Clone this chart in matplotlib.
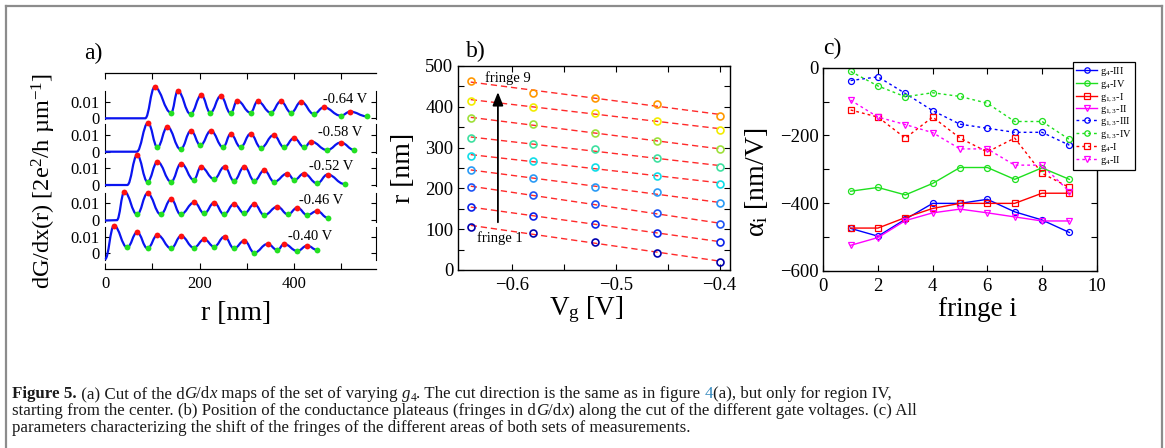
import numpy as np
import matplotlib
matplotlib.use('Agg')
import matplotlib.pyplot as plt
from matplotlib.path import Path
from matplotlib.patches import PathPatch
from matplotlib.lines import Line2D
from matplotlib.ticker import FixedLocator

plt.rcParams['font.family'] = ['Liberation Serif', 'DejaVu Serif']
plt.rcParams['mathtext.fontset'] = 'custom'
plt.rcParams['mathtext.rm'] = 'Liberation Serif'
plt.rcParams['mathtext.it'] = 'Liberation Serif:italic'
plt.rcParams['mathtext.bf'] = 'Liberation Serif:bold'

# ---------------- data: panel a (dG/dx cuts) ----------------
gate_labels = ['-0.64 V', '-0.58 V', '-0.52 V', '-0.46 V', '-0.40 V']
base_r = [[0, 85], [0, 67], [0, 47], [0, 25], [0]]
base_v = [[0.0, 0.0], [0.0, 0.0], [0.0, 0.0], [-0.0003, -0.0001], [-0.0036]]
peak_r = [[105, 154, 204, 245, 280, 323, 372, 415, 463, 519],
          [91, 132, 182, 224, 266, 308, 357, 400, 436, 499],
          [68, 111, 161, 203, 253, 295, 337, 386, 421, 471],
          [41, 90, 140, 189, 231, 273, 316, 365, 407, 449],
          [19, 68, 111, 161, 210, 253, 295, 344, 379, 428]]
peak_v = [[0.0187, 0.0164, 0.0139, 0.0134, 0.0106, 0.0102, 0.0102, 0.0100, 0.0066, 0.0040],
          [0.0173, 0.0149, 0.0126, 0.0126, 0.0106, 0.0108, 0.0100, 0.0082, 0.0061, 0.0055],
          [0.0180, 0.0139, 0.0129, 0.0108, 0.0110, 0.0110, 0.0088, 0.0069, 0.0069, 0.0063],
          [0.0170, 0.0160, 0.0126, 0.0106, 0.0104, 0.0096, 0.0096, 0.0080, 0.0074, 0.0054],
          [0.0166, 0.0126, 0.0110, 0.0104, 0.0084, 0.0100, 0.0076, 0.0056, 0.0056, 0.0046]]
valley_r = [[140, 181, 223, 266, 308, 351, 394, 442, 499, 554],
            [111, 160, 202, 250, 287, 330, 379, 422, 470, 528],
            [90, 140, 188, 231, 273, 316, 358, 401, 449, 507],
            [68, 118, 160, 210, 252, 295, 337, 387, 428, 471],
            [47, 90, 140, 188, 231, 273, 316, 365, 407, 449]]
valley_v = [[0.0034, 0.0026, 0.0034, 0.0030, 0.0034, 0.0034, 0.0034, 0.0026, 0.0016, 0.0012],
            [0.0027, 0.0015, 0.0039, 0.0027, 0.0027, 0.0023, 0.0027, 0.0027, 0.0010, 0.0010],
            [0.0020, 0.0020, 0.0031, 0.0036, 0.0025, 0.0025, 0.0020, 0.0031, 0.0010, 0.0006],
            [0.0034, 0.0034, 0.0034, 0.0040, 0.0034, 0.0040, 0.0030, 0.0034, 0.0030, 0.0014],
            [0.0036, 0.0030, 0.0030, 0.0034, 0.0040, 0.0030, 0.0004, 0.0020, 0.0014, 0.0020]]

# ---------------- data: panel b (fringe positions) ----------------
vg = [-0.64, -0.58, -0.52, -0.46, -0.40]
fringe_r = [[105, 91.5, 69, 42.5, 20],
            [154, 133, 112, 91.5, 69],
            [204, 183, 161, 140.5, 112],
            [245, 225, 204, 190, 163],
            [280, 266, 253, 231, 211],
            [323, 309, 296, 274, 253],
            [372, 357, 337, 316, 296],
            [415, 400, 386, 366, 343],
            [463, 435, 422, 407, 378]]

# ---------------- data: panel c (alpha_i) ----------------
fringe_i = [1, 2, 3, 4, 5, 6, 7, 8, 9]
series_labels = ['g$_4$-III', 'g$_4$-IV', 'g$_{1,3}$-I', 'g$_{1,3}$-II',
                 'g$_{1,3}$-III', 'g$_{1,3}$-IV', 'g$_4$-I', 'g$_4$-II']
alpha_g4_III = [-475, -498, -448, -401, -401, -389, -426, -450, -487]
alpha_g4_IV = [-365, -354, -376, -342, -295, -295, -330, -296, -330]
alpha_g13_I = [-474, -474, -443, -416, -401, -401, -401, -371, -371]
alpha_g13_II = [-525, -502, -452, -429, -418, -429, -441, -453, -453]
alpha_g13_III = [-38, -27, -76, -127, -167, -179, -191, -191, -229]
alpha_g13_IV = [-11, -54, -86, -74, -85, -105, -159, -159, -212]
alpha_g4_I = [-125, -146, -208, -146, -208, -249, -208, -312, -354]
alpha_g4_II = [-96, -146, -168, -192, -240, -240, -288, -288, -366]

# ---------------- figure ----------------
W, H = 1165, 448
fig = plt.figure(figsize=(W / 100, H / 100), dpi=100)


def rect(l, t, r, b):
    return [l / W, 1 - b / H, (r - l) / W, (b - t) / H]


def ftext(x, y, s, **kw):
    return fig.text(x / W, 1 - y / H, s, **kw)


# border frame
for xs, ys in [([6, 6], [6, 460]), ([6, 1162], [6, 6]), ([1162, 1162], [6, 460])]:
    fig.add_artist(Line2D([x / W for x in xs], [1 - y / H for y in ys],
                          color='#8c8c8c', lw=1.6))

# ---------------- panel a ----------------
XMAX_A = 573.5
ax_a = fig.add_axes(rect(105, 73, 376, 269))
ax_a.set_xlim(0, XMAX_A)
ax_a.set_ylim(0, 1)
ax_a.spines['left'].set_visible(False)
ax_a.spines['right'].set_visible(False)
for sp in ['top', 'bottom']:
    ax_a.spines[sp].set_linewidth(0.9)
ax_a.set_yticks([])
ax_a.xaxis.set_major_locator(FixedLocator([0, 200, 400]))
ax_a.xaxis.set_minor_locator(FixedLocator([100, 300, 500]))
ax_a.tick_params(axis='x', which='both', direction='in', top=True, bottom=True,
                 length=4, width=0.8, labelsize=12, pad=5)
ax_a.patch.set_alpha(0)

zero_py = [118.3, 151.7, 185.0, 220.0, 253.3]
ylims = [(-0.0006, 0.0165), (-0.0006, 0.0165), (-0.0006, 0.0165),
         (-0.0012, 0.0165), (-0.0040, 0.0158)]
px_per_unit = 1660.0
label_right = [367, 362, 353, 343, 332]
label_y = [99.5, 132.7, 166.0, 200.7, 236.0]


def smooth_path(xs, ys):
    verts = [(xs[0], ys[0])]
    codes = [Path.MOVETO]
    for i in range(1, len(xs)):
        x0, y0, x1, y1 = xs[i - 1], ys[i - 1], xs[i], ys[i]
        d = (x1 - x0) * 0.42
        verts += [(x0 + d, y0), (x1 - d, y1), (x1, y1)]
        codes += [Path.CURVE4] * 3
    return Path(verts, codes)


for k in range(5):
    lo, hi = ylims[k]
    top = zero_py[k] - hi * px_per_unit
    bot = zero_py[k] - lo * px_per_unit
    sub = fig.add_axes(rect(105, top, 376, bot))
    sub.patch.set_alpha(0)
    sub.set_xlim(0, XMAX_A)
    sub.set_ylim(lo, hi)
    sub.spines['top'].set_visible(False)
    sub.spines['bottom'].set_visible(False)
    for sp in ['left', 'right']:
        sub.spines[sp].set_linewidth(0.8)
    sub.set_xticks([])
    sub.set_yticks([0, 0.01])
    sub.set_yticklabels(['0', '0.01'])
    sub.tick_params(axis='y', direction='in', left=True, right=True, length=3.5,
                    width=0.8, labelsize=12, pad=4)
    nodes = sorted(zip(peak_r[k] + valley_r[k], peak_v[k] + valley_v[k]))
    xs = list(base_r[k]) + [n[0] for n in nodes]
    ys = list(base_v[k]) + [n[1] for n in nodes]
    patch = PathPatch(smooth_path(xs, ys), facecolor='none', edgecolor='#0a14f0',
                      lw=1.6, clip_on=False, zorder=3)
    sub.add_patch(patch)
    sub.plot(peak_r[k], peak_v[k], 'o', color='#ff1010', ms=4.2, mew=0, clip_on=False, zorder=4)
    sub.plot(valley_r[k], valley_v[k], 'o', color='#22e022', ms=4.2, mew=0, clip_on=False, zorder=4)
    ftext(label_right[k], label_y[k], gate_labels[k], ha='right', va='center', fontsize=10.5)

ftext(93, 53, 'a)', ha='center', va='center', fontsize=17)
ftext(236, 314, 'r [nm]', ha='center', va='center', fontsize=20)
ftext(44, 181, r'dG/dx(r) [2e$^2$/h µm$^{-1}$]', ha='center', va='center',
      rotation=90, fontsize=17.5)

# ---------------- panel b ----------------
ax_b = fig.add_axes(rect(458.3, 66, 730, 270))
ax_b.set_xlim(-0.652, -0.39)
ax_b.set_ylim(0, 500)
fringe_colors = ['#0000b0', '#0c22e8', '#1f55f5', '#2a9af5', '#10dde8',
                 '#3ee0a0', '#9ee03a', '#f2ec00', '#ff9800']
for i, row in enumerate(fringe_r):
    coef = np.polyfit(vg, row, 1)
    ax_b.plot(vg, np.polyval(coef, vg), color='#ff2a2a', lw=1.0, dashes=(4.5, 2.8), zorder=2)
for i, row in enumerate(fringe_r):
    ax_b.plot(vg, row, 'o', mfc='none', mec=fringe_colors[i], ms=5, mew=1.2, zorder=3)
ax_b.xaxis.set_major_locator(FixedLocator([-0.6, -0.5, -0.4]))
ax_b.xaxis.set_minor_locator(FixedLocator([-0.55, -0.45]))
ax_b.yaxis.set_major_locator(FixedLocator([0, 100, 200, 300, 400, 500]))
ax_b.yaxis.set_minor_locator(FixedLocator([50, 150, 250, 350, 450]))
ax_b.tick_params(which='both', direction='in', top=True, right=True, length=4.5,
                 width=0.8, labelsize=13.5)
ax_b.tick_params(axis='x', pad=5)
for sp in ax_b.spines.values():
    sp.set_linewidth(1.0)
ax_b.annotate('', xy=(-0.6138, 436), xytext=(-0.6138, 117),
              arrowprops=dict(arrowstyle='-|>,head_length=0.8,head_width=0.32',
                              color='black', lw=1.3, shrinkA=0, shrinkB=0))
ftext(508, 78, 'fringe 9', ha='center', va='center', fontsize=10.5)
ftext(500, 238, 'fringe 1', ha='center', va='center', fontsize=10.5)
ftext(476, 51, 'b)', ha='center', va='center', fontsize=17)
ftext(586, 310, r'V$_\mathrm{g}$ [V]', ha='center', va='center', fontsize=19.5)
ftext(404, 168, 'r [nm]', ha='center', va='center', rotation=90, fontsize=20)

# ---------------- panel c ----------------
ax_c = fig.add_axes(rect(823.3, 67.7, 1096.7, 270.7))
ax_c.set_xlim(0, 10)
ax_c.set_ylim(-600, 0)
solid_series = [(alpha_g4_III, '#0000ff', 'o'), (alpha_g4_IV, '#1ee01e', 'o'),
                (alpha_g13_I, '#ff0000', 's'), (alpha_g13_II, '#ff00ff', 'v')]
dotted_series = [(alpha_g13_III, '#0000ff', 'o'), (alpha_g13_IV, '#1ee01e', 'o'),
                 (alpha_g4_I, '#ff0000', 's'), (alpha_g4_II, '#ff00ff', 'v')]
handles = []
for vals, col, mk in solid_series:
    h, = ax_c.plot(fringe_i, vals, '-', color=col, marker=mk, mfc='none', mec=col,
                   ms=4.3, mew=0.9, lw=1.0)
    handles.append(h)
for vals, col, mk in dotted_series:
    h, = ax_c.plot(fringe_i, vals, color=col, ls=(0, (2.0, 2.2)), marker=mk, mfc='none',
                   mec=col, ms=4.3, mew=0.9, lw=1.0)
    handles.append(h)
ax_c.xaxis.set_major_locator(FixedLocator([0, 2, 4, 6, 8, 10]))
ax_c.yaxis.set_major_locator(FixedLocator([-600, -400, -200, 0]))
ax_c.yaxis.set_minor_locator(FixedLocator([-500, -300, -100]))
ax_c.tick_params(which='both', direction='in', top=True, right=True, length=4.5,
                 width=0.8, labelsize=13.5)
ax_c.tick_params(axis='x', pad=5)
for sp in ax_c.spines.values():
    sp.set_linewidth(1.0)
leg = ax_c.legend(handles, series_labels, loc='upper left',
                  bbox_to_anchor=(1073 / W, 1 - 62 / H), bbox_transform=fig.transFigure,
                  fontsize=7.5, frameon=True, fancybox=False, edgecolor='black',
                  framealpha=1, borderpad=0.3, labelspacing=0.0, handlelength=2.0,
                  handletextpad=0.3, borderaxespad=0, markerscale=0.9)
leg.get_frame().set_linewidth(0.9)
ftext(832, 48, 'c)', ha='center', va='center', fontsize=17)
ftext(977, 309, 'fringe i', ha='center', va='center', fontsize=19.5)
ftext(757, 182, r'α$_\mathrm{i}$ [nm/V]', ha='center', va='center', rotation=90, fontsize=20)

# ---------------- caption ----------------
renderer = fig.canvas.get_renderer()
CAP_SIZE = 12.2


def seg_kw(style, size):
    kw = dict(fontsize=size, color='#1a1a1a')
    if style == 'bold':
        kw['fontweight'] = 'bold'
    elif style == 'it':
        kw['fontstyle'] = 'italic'
    elif style == 'sub':
        kw['fontsize'] = size * 0.68
    elif style == 'blue':
        kw['color'] = '#2f86bd'
    return kw


def measure(s, kw):
    t1 = fig.text(0, 0, '|' + s + '|', **kw)
    t2 = fig.text(0, 0, '||', **kw)
    w = t1.get_window_extent(renderer).width - t2.get_window_extent(renderer).width
    t1.remove()
    t2.remove()
    return w


def draw_caption_line(segs, x0, base, size):
    x = x0
    for s, st in segs:
        kw = seg_kw(st, size)
        y = base + (size * 0.15 * 100 / 72 if st == 'sub' else 0)
        fig.text(x / W, 1 - y / H, s, ha='left', va='baseline', **kw)
        x += measure(s, kw)


line1 = [('Figure 5.', 'bold'), (' (a) Cut of the d', 'n'), ('G', 'it'), ('/d', 'n'),
         ('x', 'it'), (' maps of the set of varying ', 'n'), ('g', 'it'), ('4', 'sub'),
         ('. The cut direction is the same as in figure ', 'n'), ('4', 'blue'),
         ('(a), but only for region IV,', 'n')]
line2 = [('starting from the center. (b) Position of the conductance plateaus (fringes in d', 'n'),
         ('G', 'it'), ('/d', 'n'), ('x', 'it'),
         (') along the cut of the different gate voltages. (c) All', 'n')]
line3 = [('parameters characterizing the shift of the fringes of the different areas of both sets of measurements.', 'n')]
draw_caption_line(line1, 12, 398.0, CAP_SIZE)
draw_caption_line(line2, 12, 415.0, CAP_SIZE)
draw_caption_line(line3, 12, 431.5, CAP_SIZE)

fig.savefig('out.png', dpi=100)
